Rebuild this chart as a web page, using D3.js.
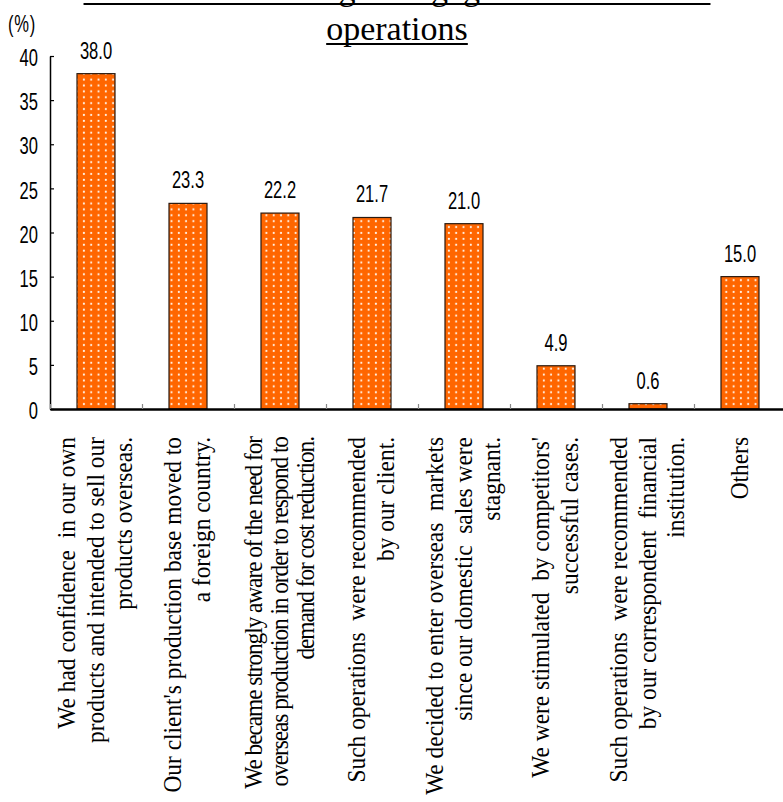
<!DOCTYPE html>
<html>
<head>
<meta charset="utf-8">
<script src="https://cdn.jsdelivr.net/npm/d3@7/dist/d3.min.js"></script>
<style>
  html, body { margin: 0; padding: 0; background: #ffffff; }
  svg { display: block; }
</style>
</head>
<body>
<svg id="chart" width="783" height="802"></svg>
<script>
// Survey: reasons for starting to engage in international operations (multiple answers, %)
const titleLines = ["Reasons for starting to engage in international", "operations"];
const unitLabel = "(%)";

const categories = [
  ["We had confidence  in our own", "products and intended to sell our", "products overseas."],
  ["Our client's production base moved to", "a foreign country."],
  ["We became strongly aware of the need for", "overseas production in order to respond to", "demand for cost reduction."],
  ["Such operations  were recommended", "by our client."],
  ["We decided to enter overseas  markets", "since our domestic  sales were", "stagnant."],
  ["We were stimulated  by competitors'", "successful cases."],
  ["Such operations  were recommended", "by our correspondent  financial", "institution."],
  ["Others"]
];

const values = [38.0, 23.3, 22.2, 21.7, 21.0, 4.9, 0.6, 15.0];
const valueLabels = ["38.0", "23.3", "22.2", "21.7", "21.0", "4.9", "0.6", "15.0"];
const yTicks = [0, 5, 10, 15, 20, 25, 30, 35, 40];

// Layout
const plotLeft = 50, plotTop = 56, plotBottom = 409;
const slot = 92;
const plotRight = plotLeft + slot * categories.length;
const numFont = "'Liberation Sans Narrow', 'Arial Narrow', 'Liberation Sans', sans-serif";
const serifFont = "'Liberation Serif', 'Times New Roman', serif";
const squeeze = 0.72;     // horizontal condensing of numeric labels
const labelSqueeze = 0.9; // condensing along the rotated category text

const svg = d3.select("#chart");

const x = d3.scaleBand()
  .domain(d3.range(categories.length))
  .range([plotLeft, plotRight])
  .paddingInner(0.587)
  .paddingOuter(0.2935);

const xEdge = d3.scaleLinear().domain([0, categories.length]).range([plotLeft, plotRight]);

const y = d3.scaleLinear().domain([0, 40]).range([plotBottom, plotTop]);

// Dotted fill for the bars
const defs = svg.append("defs");
const pat = defs.append("pattern")
  .attr("id", "dots")
  .attr("patternUnits", "userSpaceOnUse")
  .attr("width", 7.3)
  .attr("height", 5.9);
pat.append("rect").attr("width", 7.3).attr("height", 5.9).attr("fill", "#ff6600");
pat.append("circle").attr("cx", 3.6).attr("cy", 2.9).attr("r", 1.1).attr("fill", "#fff4e8");

// Title (first line sits above the top edge)
const title = svg.append("g").attr("class", "title");
titleLines.forEach((t, i) => {
  const tx = title.append("text")
    .attr("x", 397)
    .attr("y", 0 + i * 40)
    .attr("text-anchor", "middle")
    .attr("font-family", serifFont)
    .attr("font-size", 34)
    .attr("fill", "#000")
    .text(t);
  const w = tx.node().getComputedTextLength();
  title.append("line")
    .attr("x1", 397 - w / 2).attr("x2", 397 + w / 2)
    .attr("y1", i * 40 + 4).attr("y2", i * 40 + 4)
    .attr("stroke", "#000").attr("stroke-width", 2.2);
});

// Unit label
svg.append("text")
  .attr("transform", `translate(22,32) scale(${squeeze},1)`)
  .attr("text-anchor", "middle")
  .attr("font-family", numFont)
  .attr("font-size", 23)
  .attr("letter-spacing", 1)
  .attr("fill", "#000")
  .text(unitLabel);

// Bars
svg.append("g").selectAll("rect")
  .data(values)
  .join("rect")
  .attr("x", (d, i) => x(i))
  .attr("y", d => y(d))
  .attr("width", x.bandwidth())
  .attr("height", d => y(0) - y(d))
  .attr("fill", "url(#dots)")
  .attr("stroke", "#2a1a10")
  .attr("stroke-width", 1.2);

// Value labels
svg.append("g").selectAll("text")
  .data(values)
  .join("text")
  .attr("transform", (d, i) => `translate(${x(i) + x.bandwidth() / 2},${y(d) - 15}) scale(${squeeze},1)`)
  .attr("text-anchor", "middle")
  .attr("font-family", numFont)
  .attr("font-size", 23)
  .attr("fill", "#000")
  .text((d, i) => valueLabels[i]);

// Y axis with inward ticks
const yAxis = svg.append("g")
  .attr("transform", `translate(${plotLeft},0)`)
  .call(d3.axisLeft(y).tickValues(yTicks).tickSize(-4).tickSizeOuter(0).tickPadding(12).tickFormat(d3.format("d")));
yAxis.select(".domain").attr("stroke", "#000").attr("stroke-width", 1.5);
yAxis.selectAll(".tick line").attr("stroke", "#000").attr("stroke-width", 1.2);
yAxis.selectAll(".tick text")
  .attr("font-family", numFont)
  .attr("font-size", 23)
  .attr("fill", "#000")
  .attr("x", -12 / squeeze)
  .attr("dy", "0.42em")
  .attr("transform", `scale(${squeeze},1)`);

// X axis: baseline with ticks between categories
const xAxis = svg.append("g")
  .attr("transform", `translate(0,${plotBottom})`)
  .call(d3.axisBottom(xEdge).tickValues(d3.range(categories.length + 1)).tickSize(-5).tickSizeOuter(0).tickFormat(""));
xAxis.select(".domain").attr("stroke", "#000").attr("stroke-width", 2.4);
xAxis.selectAll(".tick line").attr("stroke", "#888").attr("stroke-width", 1.2);

// Category labels, rotated and stacked line by line
const tightIndex = 2;
const catG = svg.append("g");
categories.forEach((lines, i) => {
  const cx = x(i) + x.bandwidth() / 2 - 1;
  const tight = i === tightIndex;
  const gap = tight ? 26 : 28.5;
  lines.forEach((line, j) => {
    const lx = cx + (j - (lines.length - 1) / 2) * gap;
    catG.append("text")
      .attr("transform", `translate(${lx},437) rotate(-90) scale(${labelSqueeze},1)`)
      .attr("text-anchor", "end")
      .attr("dy", "0.33em")
      .attr("font-family", serifFont)
      .attr("font-size", 26)
      .attr("letter-spacing", tight ? -1.2 : 0)
      .attr("fill", "#000")
      .style("white-space", "pre")
      .text(line);
  });
});
</script>
</body>
</html>
